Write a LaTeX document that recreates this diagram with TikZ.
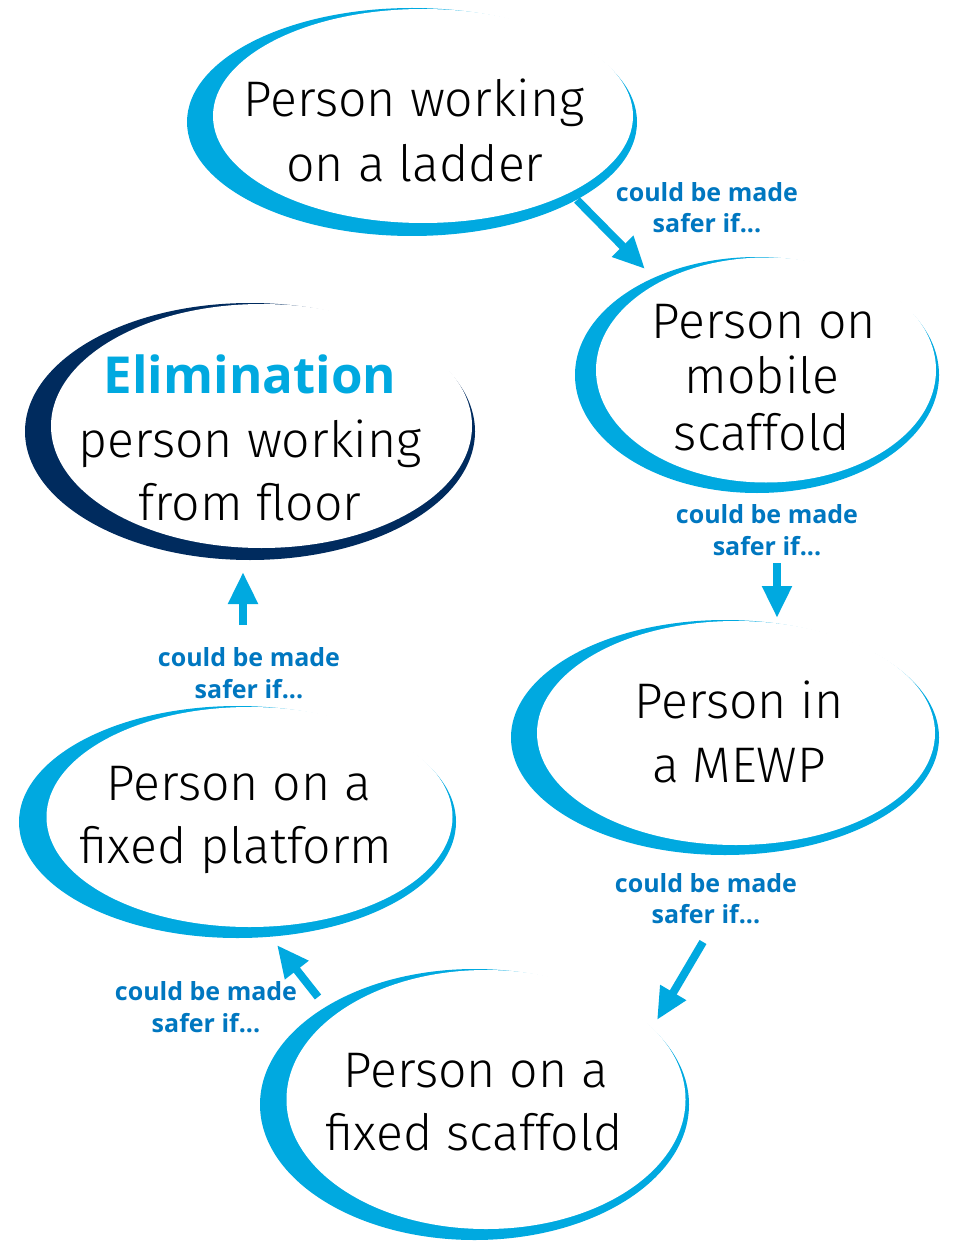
\documentclass[tikz,border=0pt]{standalone}
\usepackage{fontspec}
\usetikzlibrary{arrows.meta}
\newfontfamily\handfont{Fira Sans Light}
\newfontfamily\labfont{Open Sans}
\definecolor{cyanb}{HTML}{00A9E0}
\definecolor{labblue}{HTML}{0077C0}
\definecolor{navyb}{HTML}{002B5E}
\newcommand\swoosh[9]{%
  \fill[#1] (#2,#3) ellipse [x radius=#4pt, y radius=#5pt];
  \fill[white] (#6,#7) ellipse [x radius=#8pt, y radius=#9pt];}
\tikzset{
  hand/.style={font=\handfont\fontsize{50}{56}\selectfont, anchor=base, inner sep=0pt},
  lab/.style={font=\labfont\bfseries\fontsize{25}{32}\selectfont, text=labblue, anchor=base, inner sep=0pt},
  flow/.style={draw=cyanb, line width=8pt, -{Triangle[length=32pt,width=28pt]}},
}
\begin{document}
\begin{tikzpicture}[x=1pt,y=-1pt]
\useasboundingbox (0,0) rectangle (953,1241);
\fill[white] (0,0) rectangle (953,1241);
% ellipses (swooshes)
\swoosh{cyanb}{412}{122}{225}{114}{423}{116}{210}{107}
\swoosh{cyanb}{757}{375}{182}{118}{766}{370}{170}{112.5}
\swoosh{navyb}{250}{431.5}{225}{128.5}{261.5}{426}{210.5}{122}
\swoosh{cyanb}{725}{737.5}{214}{117.5}{736}{733}{199}{112}
\swoosh{cyanb}{237.5}{822}{218.5}{116}{249.5}{817}{203}{110}
\swoosh{cyanb}{474.5}{1104.5}{214.5}{135.5}{486}{1099.5}{199.5}{129.5}
% texts
\node[hand] (t1a) at (414,117) {Person working};
\node[hand] (t1b) at (415,182) {on a ladder};
\node[hand] (t2a) at (764,338) {Person on};
\node[hand] (t2b) at (762,393) {mobile};
\node[hand] (t2c) at (762,450) {scaffold};
\node[anchor=base, inner sep=0pt, font=\labfont\bfseries\fontsize{51}{56}\selectfont, text=cyanb] (t3a) at (250,393) {Elimination};
\node[hand] (t3b) at (250,457) {person working};
\node[hand] (t3c) at (250,520) {from floor};
\node[hand] (t4a) at (739,718) {Person in};
\node[hand] (t4b) at (739,782) {a MEWP};
\node[hand] (t5a) at (239,800) {Person on a};
\node[hand] (t5b) at (236,863) {fixed platform};
\node[hand] (t6a) at (476,1087) {Person on a};
\node[hand] (t6b) at (474,1150) {fixed scaffold};
% labels
\node[lab] (l1a) at (707,202) {could be made};
\node[lab] (l1b) at (707,233) {safer if...};
\node[lab] (l2a) at (767,523) {could be made};
\node[lab] (l2b) at (767,555) {safer if...};
\node[lab] (l3a) at (706,892) {could be made};
\node[lab] (l3b) at (706,923) {safer if...};
\node[lab] (l4a) at (206,1000) {could be made};
\node[lab] (l4b) at (206,1032) {safer if...};
\node[lab] (l5a) at (249,666) {could be made};
\node[lab] (l5b) at (249,698) {safer if...};
% arrows
\coordinate (a1s) at (577,200); \coordinate (a1e) at (645,269);
\coordinate (a2s) at (777,563); \coordinate (a2e) at (777,618);
\coordinate (a3s) at (703,942); \coordinate (a3e) at (657,1020);
\coordinate (a4s) at (318,997); \coordinate (a4e) at (277,945);
\coordinate (a5s) at (243,625); \coordinate (a5e) at (243,572);
\draw[flow] (a1s) -- (a1e);
\draw[flow] (a2s) -- (a2e);
\draw[flow] (a3s) -- (a3e);
\draw[flow] (a4s) -- (a4e);
\draw[flow] (a5s) -- (a5e);
\end{tikzpicture}
\end{document}
